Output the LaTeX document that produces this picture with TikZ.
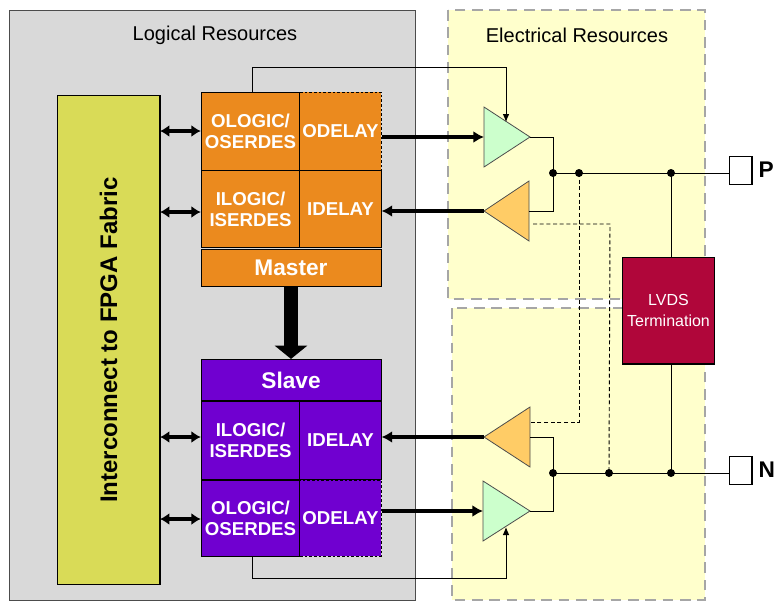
\documentclass[tikz,border=0pt]{standalone}
\usepackage{fontspec}
\setmainfont{Liberation Sans}
\usetikzlibrary{arrows.meta}
\definecolor{grayb}{HTML}{D9D9D9}
\definecolor{yel}{HTML}{FFFFCC}
\definecolor{fab}{HTML}{D9DB57}
\definecolor{org}{HTML}{EB8A1E}
\definecolor{pur}{HTML}{7000D0}
\definecolor{grn}{HTML}{CCFFCC}
\definecolor{ob}{HTML}{FFCC66}
\definecolor{lvds}{HTML}{B0063A}
\begin{document}
\begin{tikzpicture}[x=0.75pt,y=-0.75pt,
  cell/.style={draw=black,line width=0.6pt,text=white,font=\bfseries\fontsize{14}{16}\selectfont,align=center,inner sep=0pt},
  dcell/.style={cell,dash pattern=on 2pt off 1.5pt},
  bus/.style={line width=2.6pt,-{Latex[length=8pt,width=9pt]}},
  dbus/.style={line width=2.6pt,{Latex[length=7pt,width=9pt]}-{Latex[length=7pt,width=9pt]}},
  wire/.style={line width=0.7pt},
  dwire/.style={line width=0.7pt,dash pattern=on 3pt off 2pt},
  dot/.style={circle,fill=black,inner sep=0pt,minimum size=6pt},
  pad/.style={draw=black,line width=1pt,fill=white,minimum width=17pt,minimum height=21pt,inner sep=0pt},
  region/.style={fill=yel,draw=gray!70,line width=2pt,dash pattern=on 8pt off 5pt}]
\useasboundingbox (0,0) rectangle (779,612);
\fill[white] (0,0) rectangle (779,612);
% regions
\draw[fill=grayb,draw=black!70,line width=0.6pt] (9,10) rectangle (415,600);
\draw[region] (448,10) rectangle (705,299);
\draw[region] (452,308) rectangle (705,600);
\node (lt) at (215,35) {\fontsize{15}{17}\selectfont Logical Resources};
\node (et) at (577,35) {\fontsize{15}{17}\selectfont Electrical Resources};
% fabric
\node[draw=black,line width=1pt,fill=fab,minimum width=77pt,minimum height=367pt,inner sep=0pt] (fab) at (108.5,340) {};
\node[rotate=90,font=\bfseries\fontsize{18}{20}\selectfont] (fabt) at (108.5,340) {Interconnect to FPGA Fabric};
% master
\node[cell,fill=org,minimum width=74pt,minimum height=58.5pt] (ol1) at (250.5,131) {OLOGIC/\\OSERDES};
\node[dcell,fill=org,minimum width=61pt,minimum height=58.5pt] (od1) at (340.5,131) {ODELAY};
\node[cell,fill=org,minimum width=74pt,minimum height=57.75pt] (il1) at (250.5,209) {ILOGIC/\\ISERDES};
\node[cell,fill=org,minimum width=61pt,minimum height=57.75pt] (id1) at (340.5,209) {IDELAY};
\node[cell,fill=org,minimum width=135pt,minimum height=28pt,font=\bfseries\fontsize{17}{19}\selectfont] (ma) at (291,268) {Master};
% slave
\node[cell,fill=pur,minimum width=135pt,minimum height=31pt,font=\bfseries\fontsize{17}{19}\selectfont] (sl) at (291,380) {Slave};
\node[cell,fill=pur,minimum width=74pt,minimum height=58.5pt] (il2) at (250.5,440) {ILOGIC/\\ISERDES};
\node[cell,fill=pur,minimum width=61pt,minimum height=58.5pt] (id2) at (340.5,440) {IDELAY};
\node[cell,fill=pur,minimum width=74pt,minimum height=57pt] (ol2) at (250.5,518) {OLOGIC/\\OSERDES};
\node[dcell,fill=pur,minimum width=61pt,minimum height=57pt] (od2) at (340.5,518) {ODELAY};
\draw[line width=10pt,-{Triangle[length=10pt,width=24pt]}] (ma.south) -- (sl.north);
% double arrows
\foreach \y/\n in {131/ol1,212/il1,437/il2,519/ol2}
  \draw[dbus] (160,\y) -- (\n.west |- 0,\y);
% buffers
\draw[fill=grn,draw=black!70,line width=0.6pt] (484,107) -- (530,137) -- (484,167) -- cycle;
\draw[fill=ob,draw=black!70,line width=0.6pt] (529,181) -- (484,211) -- (529,241) -- cycle;
\draw[fill=ob,draw=black!70,line width=0.6pt] (530,407) -- (484,437) -- (530,467) -- cycle;
\draw[fill=grn,draw=black!70,line width=0.6pt] (483,481) -- (530,511) -- (483,541) -- cycle;
\coordinate (g1i) at (484,137); \coordinate (g1o) at (530,137);
\coordinate (o1i) at (484,211); \coordinate (o1o) at (529,211);
\coordinate (o2i) at (484,437); \coordinate (o2o) at (530,437);
\coordinate (g2i) at (483,511); \coordinate (g2o) at (530,511);
\draw[bus] (od1.east |- g1i) -- (g1i);
\draw[bus] (o1i) -- (id1.east |- o1i);
\draw[bus] (o2i) -- (id2.east |- o2i);
\draw[bus] (od2.east |- g2i) -- (g2i);
% control lines
\draw[wire,-{Latex[length=6pt,width=5pt]}] (252,92) -- (252,67) -- (506,67) -- (506,122);
\draw[wire,-{Latex[length=6pt,width=5pt]}] (252,556) -- (252,578) -- (506,578) -- (506,527);
% dots
\node[dot] (d1) at (553,173) {}; \node[dot] (d2) at (579,173) {}; \node[dot] (d3) at (671,173) {};
\node[dot] (e1) at (553,473) {}; \node[dot] (e2) at (609,473) {}; \node[dot] (e3) at (671,473) {};
\node[pad] (P) at (740.5,170.5) {}; \node[font=\bfseries\fontsize{17}{19}\selectfont,anchor=west] (Pl) at (754,170) {P};
\node[pad] (N) at (740.5,470.5) {}; \node[font=\bfseries\fontsize{17}{19}\selectfont,anchor=west] (Nl) at (754,470) {N};
\draw[wire] (g1o) -- (553,137) -- (d1.center) -- (P.west |- d1);
\draw[wire] (o1o) -- (553,211) -- (d1.center);
\draw[wire] (o2o) -- (553,437) -- (e1.center) -- (N.west |- e1);
\draw[wire] (g2o) -- (553,511) -- (e1.center);
\draw[dwire] (d2.center) -- (579,422) -- (530,422);
\draw[dwire] (533,224) -- (610,224) -- (e2.center);
\node[draw=black,line width=1pt,fill=lvds,minimum width=68pt,minimum height=80pt,text=white,align=center,font=\fontsize{12}{16}\selectfont] (lv) at (668.5,310.5) {LVDS\\Termination};
\draw[wire] (d3.center) -- (lv.north -| d3);
\draw[wire] (lv.south -| e3) -- (e3.center);
\end{tikzpicture}
\end{document}
